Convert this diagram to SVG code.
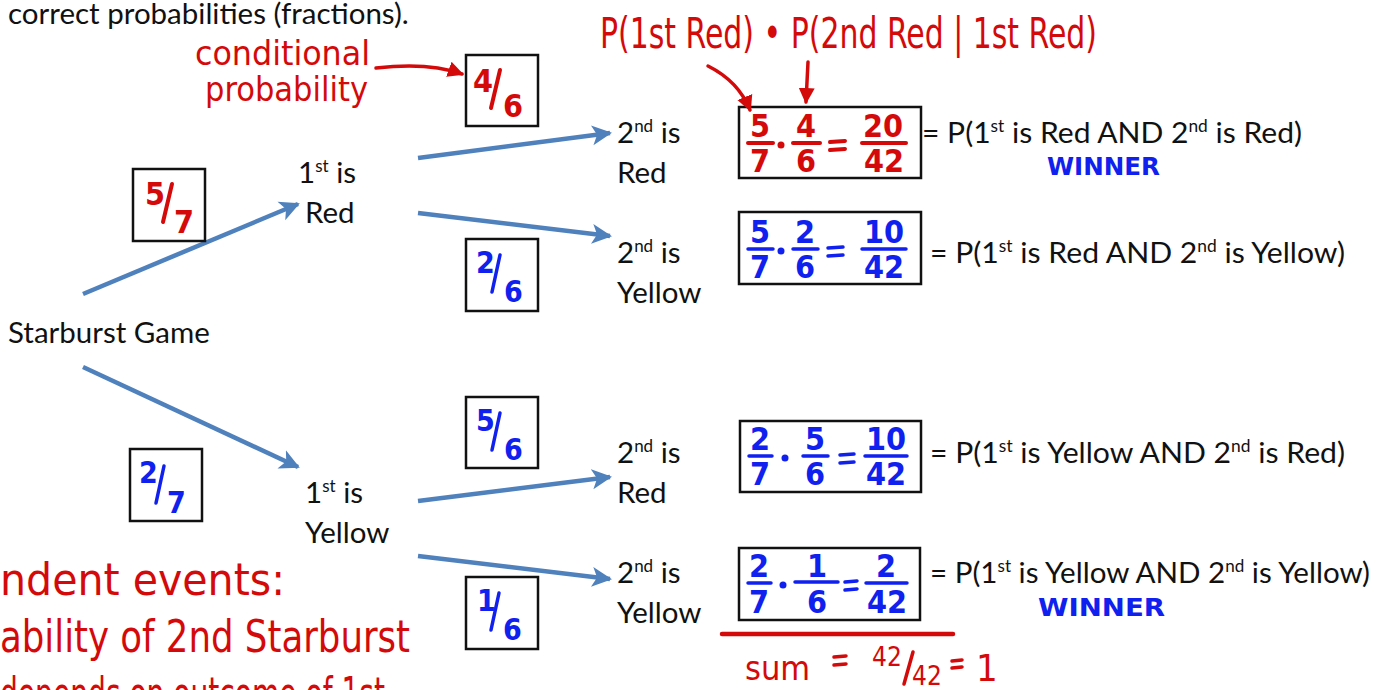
<svg xmlns="http://www.w3.org/2000/svg" width="1386" height="690" viewBox="0 0 1386 690">
<style>
.t{font-family:Lato,"Noto Sans","Liberation Sans",sans-serif;font-size:29.5px;fill:#111}
.sup{font-size:17px}
.hr{font-family:"Liberation Sans Narrow","DejaVu Sans Condensed","Liberation Sans",sans-serif;fill:#D40A0A;font-weight:bold}
.hb{font-family:"Liberation Sans Narrow","DejaVu Sans Condensed","Liberation Sans",sans-serif;fill:#1020EE;font-weight:bold}
.hn{font-family:"Liberation Sans Narrow","DejaVu Sans Condensed","Liberation Sans",sans-serif;fill:#D40A0A;font-weight:normal}
.box{fill:none;stroke:#111;stroke-width:2.5}
.conn{stroke:#4F81BD;stroke-width:4.5;fill:none}
.rl{stroke:#D40A0A;stroke-width:4;fill:none;stroke-linecap:round}
.bl{stroke:#1020EE;stroke-width:3.5;fill:none;stroke-linecap:round}
.rr{stroke:#D40A0A;stroke-width:3.5;fill:none;stroke-linecap:round}
.dig{font-size:32px;text-anchor:middle}
</style>
<defs>
<marker id="ab" markerUnits="userSpaceOnUse" markerWidth="22" markerHeight="22" refX="18" refY="11" orient="auto" viewBox="0 0 22 22"><path d="M0,1 L20,11 L0,21 L5,11 Z" fill="#4F81BD"/></marker>
<marker id="ar" markerUnits="userSpaceOnUse" markerWidth="18" markerHeight="18" refX="14" refY="9" orient="auto" viewBox="0 0 18 18"><path d="M0,1 L16,9 L0,17 Z" fill="#D40A0A"/></marker>
</defs>
<rect width="1386" height="690" fill="#fff"/>

<text class="t" x="8" y="24">correct probabilities (fractions).</text>

<g id="connectors">
<line class="conn" x1="83" y1="294" x2="298" y2="204" marker-end="url(#ab)"/>
<line class="conn" x1="83" y1="367" x2="298" y2="467" marker-end="url(#ab)"/>
<line class="conn" x1="418" y1="158" x2="610" y2="133" marker-end="url(#ab)"/>
<line class="conn" x1="418" y1="213" x2="610" y2="236" marker-end="url(#ab)"/>
<line class="conn" x1="418" y1="501" x2="610" y2="477" marker-end="url(#ab)"/>
<line class="conn" x1="418" y1="556" x2="610" y2="579" marker-end="url(#ab)"/>
</g>

<g id="start"><text class="t" x="8" y="343">Starburst Game</text></g>
<g id="first-red"><text class="t" x="298" y="183">1<tspan class="sup" dy="-11">st</tspan><tspan dy="11"> is</tspan></text><text class="t" x="305" y="223">Red</text></g>
<g id="first-yellow"><text class="t" x="305" y="503">1<tspan class="sup" dy="-11">st</tspan><tspan dy="11"> is</tspan></text><text class="t" x="305" y="543">Yellow</text></g>
<g id="rr"><text class="t" x="617" y="143">2<tspan class="sup" dy="-11">nd</tspan><tspan dy="11"> is</tspan></text><text class="t" x="617" y="183">Red</text></g>
<g id="ry"><text class="t" x="617" y="263">2<tspan class="sup" dy="-11">nd</tspan><tspan dy="11"> is</tspan></text><text class="t" x="617" y="303">Yellow</text></g>
<g id="yr"><text class="t" x="617" y="463">2<tspan class="sup" dy="-11">nd</tspan><tspan dy="11"> is</tspan></text><text class="t" x="617" y="503">Red</text></g>
<g id="yy"><text class="t" x="617" y="583">2<tspan class="sup" dy="-11">nd</tspan><tspan dy="11"> is</tspan></text><text class="t" x="617" y="623">Yellow</text></g>

<g id="p46"><rect class="box" x="466" y="55" width="72" height="71"/><text class="hr" font-size="32" x="473" y="92">4</text><line class="rl" x1="500" y1="70" x2="491" y2="108"/><text class="hr" font-size="32" x="503" y="117">6</text></g>
<g id="p57"><rect class="box" x="133" y="169" width="72" height="72"/><text class="hr" font-size="32" x="145" y="205">5</text><line class="rl" x1="172" y1="184" x2="163" y2="222"/><text class="hr" font-size="32" x="174" y="233">7</text></g>
<g id="p26"><rect class="box" x="466" y="239" width="72" height="72"/><text class="hb" font-size="30" x="476" y="273">2</text><line class="bl" x1="500" y1="255" x2="492" y2="292"/><text class="hb" font-size="30" x="504" y="302">6</text></g>
<g id="p56"><rect class="box" x="466" y="397" width="72" height="71"/><text class="hb" font-size="30" x="476" y="431">5</text><line class="bl" x1="500" y1="413" x2="492" y2="450"/><text class="hb" font-size="30" x="504" y="460">6</text></g>
<g id="p27"><rect class="box" x="130" y="449" width="72" height="72"/><text class="hb" font-size="30" x="139" y="483">2</text><line class="bl" x1="164" y1="466" x2="156" y2="503"/><text class="hb" font-size="30" x="167" y="513">7</text></g>
<g id="p16"><rect class="box" x="466" y="577" width="72" height="72"/><text class="hb" font-size="30" x="477" y="611">1</text><line class="bl" x1="499" y1="593" x2="491" y2="630"/><text class="hb" font-size="30" x="503" y="640">6</text></g>

<g id="eq1">
<rect class="box" x="739" y="107" width="182" height="71"/>
<g class="hr dig"><text x="760" y="137">5</text><text x="760" y="172">7</text><text x="806" y="137">4</text><text x="806" y="172">6</text><text x="883" y="137">20</text><text x="884" y="172">42</text></g>
<line class="rl" x1="748" y1="143" x2="773" y2="143"/><line class="rl" x1="793" y1="143" x2="820" y2="143"/><line class="rl" x1="862" y1="143" x2="906" y2="143"/>
<circle cx="781" cy="145" r="3.5" fill="#D40A0A"/>
<line class="rl" x1="830" y1="142" x2="845" y2="141"/><line class="rl" x1="830" y1="150" x2="845" y2="149"/>
<text class="t" x="922" y="143" textLength="380" lengthAdjust="spacingAndGlyphs">= P(1<tspan class="sup" dy="-11">st</tspan><tspan dy="11"> is Red AND 2</tspan><tspan class="sup" dy="-11">nd</tspan><tspan dy="11"> is Red)</tspan></text>
</g>

<g id="eq2">
<rect class="box" x="739" y="212" width="182" height="72"/>
<g class="hb dig"><text x="760" y="243">5</text><text x="760" y="278">7</text><text x="805" y="243">2</text><text x="805" y="278">6</text><text x="884" y="243">10</text><text x="884" y="278">42</text></g>
<line class="bl" x1="748" y1="249" x2="773" y2="249"/><line class="bl" x1="793" y1="249" x2="818" y2="249"/><line class="bl" x1="862" y1="249" x2="906" y2="249"/>
<circle cx="781" cy="251" r="3.5" fill="#1020EE"/>
<line class="bl" x1="828" y1="248" x2="843" y2="247"/><line class="bl" x1="828" y1="256" x2="843" y2="255"/>
<text class="t" x="930" y="263" textLength="415" lengthAdjust="spacingAndGlyphs">= P(1<tspan class="sup" dy="-11">st</tspan><tspan dy="11"> is Red AND 2</tspan><tspan class="sup" dy="-11">nd</tspan><tspan dy="11"> is Yellow)</tspan></text>
</g>

<g id="eq3">
<rect class="box" x="740" y="421" width="181" height="71"/>
<g class="hb dig"><text x="760" y="450">2</text><text x="760" y="485">7</text><text x="815" y="450">5</text><text x="815" y="485">6</text><text x="886" y="450">10</text><text x="886" y="485">42</text></g>
<line class="bl" x1="749" y1="456" x2="772" y2="456"/><line class="bl" x1="803" y1="456" x2="828" y2="456"/><line class="bl" x1="865" y1="456" x2="907" y2="456"/>
<circle cx="785" cy="458" r="3.5" fill="#1020EE"/>
<line class="bl" x1="840" y1="455" x2="854" y2="454"/><line class="bl" x1="840" y1="463" x2="854" y2="462"/>
<text class="t" x="930" y="463" textLength="415" lengthAdjust="spacingAndGlyphs">= P(1<tspan class="sup" dy="-11">st</tspan><tspan dy="11"> is Yellow AND 2</tspan><tspan class="sup" dy="-11">nd</tspan><tspan dy="11"> is Red)</tspan></text>
</g>

<g id="eq4">
<rect class="box" x="739" y="548" width="181" height="72"/>
<g class="hb dig"><text x="759" y="577">2</text><text x="759" y="613">7</text><text x="817" y="577">1</text><text x="817" y="613">6</text><text x="886" y="577">2</text><text x="887" y="613">42</text></g>
<line class="bl" x1="748" y1="583" x2="771" y2="583"/><line class="bl" x1="795" y1="582" x2="838" y2="582"/><line class="bl" x1="866" y1="583" x2="907" y2="583"/>
<circle cx="783" cy="585" r="3.5" fill="#1020EE"/>
<line class="bl" x1="845" y1="582" x2="857" y2="581"/><line class="bl" x1="845" y1="590" x2="857" y2="589"/>
<text class="t" x="930" y="583" textLength="440" lengthAdjust="spacingAndGlyphs">= P(1<tspan class="sup" dy="-11">st</tspan><tspan dy="11"> is Yellow AND 2</tspan><tspan class="sup" dy="-11">nd</tspan><tspan dy="11"> is Yellow)</tspan></text>
</g>

<g id="annotations">
<text class="hn" font-size="33" x="195" y="65" textLength="175" lengthAdjust="spacingAndGlyphs">conditional</text>
<text class="hn" font-size="33" x="205" y="101" textLength="163" lengthAdjust="spacingAndGlyphs">probability</text>
<path class="rr" d="M376,68 C410,64 440,66 462,74" marker-end="url(#ar)"/>
<text class="hn" font-size="42" x="600" y="48" textLength="497" lengthAdjust="spacingAndGlyphs">P(1st Red) • P(2nd Red | 1st Red)</text>
<path class="rr" d="M708,66 C728,76 742,90 750,110" marker-end="url(#ar)"/>
<path class="rr" d="M808,62 L806,102" marker-end="url(#ar)"/>
<text class="hb" font-size="24" x="1047" y="175" textLength="113" lengthAdjust="spacingAndGlyphs">WINNER</text>
<text class="hb" font-size="24" x="1038" y="616" textLength="127" lengthAdjust="spacingAndGlyphs">WINNER</text>
<line x1="722" y1="634" x2="953" y2="634" stroke="#D40A0A" stroke-width="4.5" stroke-linecap="round"/>
<text class="hn" font-size="34" x="745" y="680">sum</text>
<line class="rr" x1="834" y1="657" x2="846" y2="656"/><line class="rr" x1="834" y1="665" x2="846" y2="664"/>
<text class="hn" font-size="26" x="872" y="666">42</text>
<line class="rr" x1="913" y1="652" x2="904" y2="684"/>
<text class="hn" font-size="26" x="912" y="685">42</text>
<line class="rr" x1="952" y1="661" x2="962" y2="660"/><line class="rr" x1="952" y1="668" x2="962" y2="667"/>
<text class="hn" font-size="38" x="976" y="681">1</text>
<text class="hn" font-size="44" x="0" y="595" textLength="285" lengthAdjust="spacingAndGlyphs">ndent events:</text>
<text class="hn" font-size="44" x="0" y="652" textLength="410" lengthAdjust="spacingAndGlyphs">ability of 2nd Starburst</text>
<text class="hn" font-size="44" x="0" y="709" textLength="385" lengthAdjust="spacingAndGlyphs">depends on outcome of 1st</text>
</g>
</svg>
